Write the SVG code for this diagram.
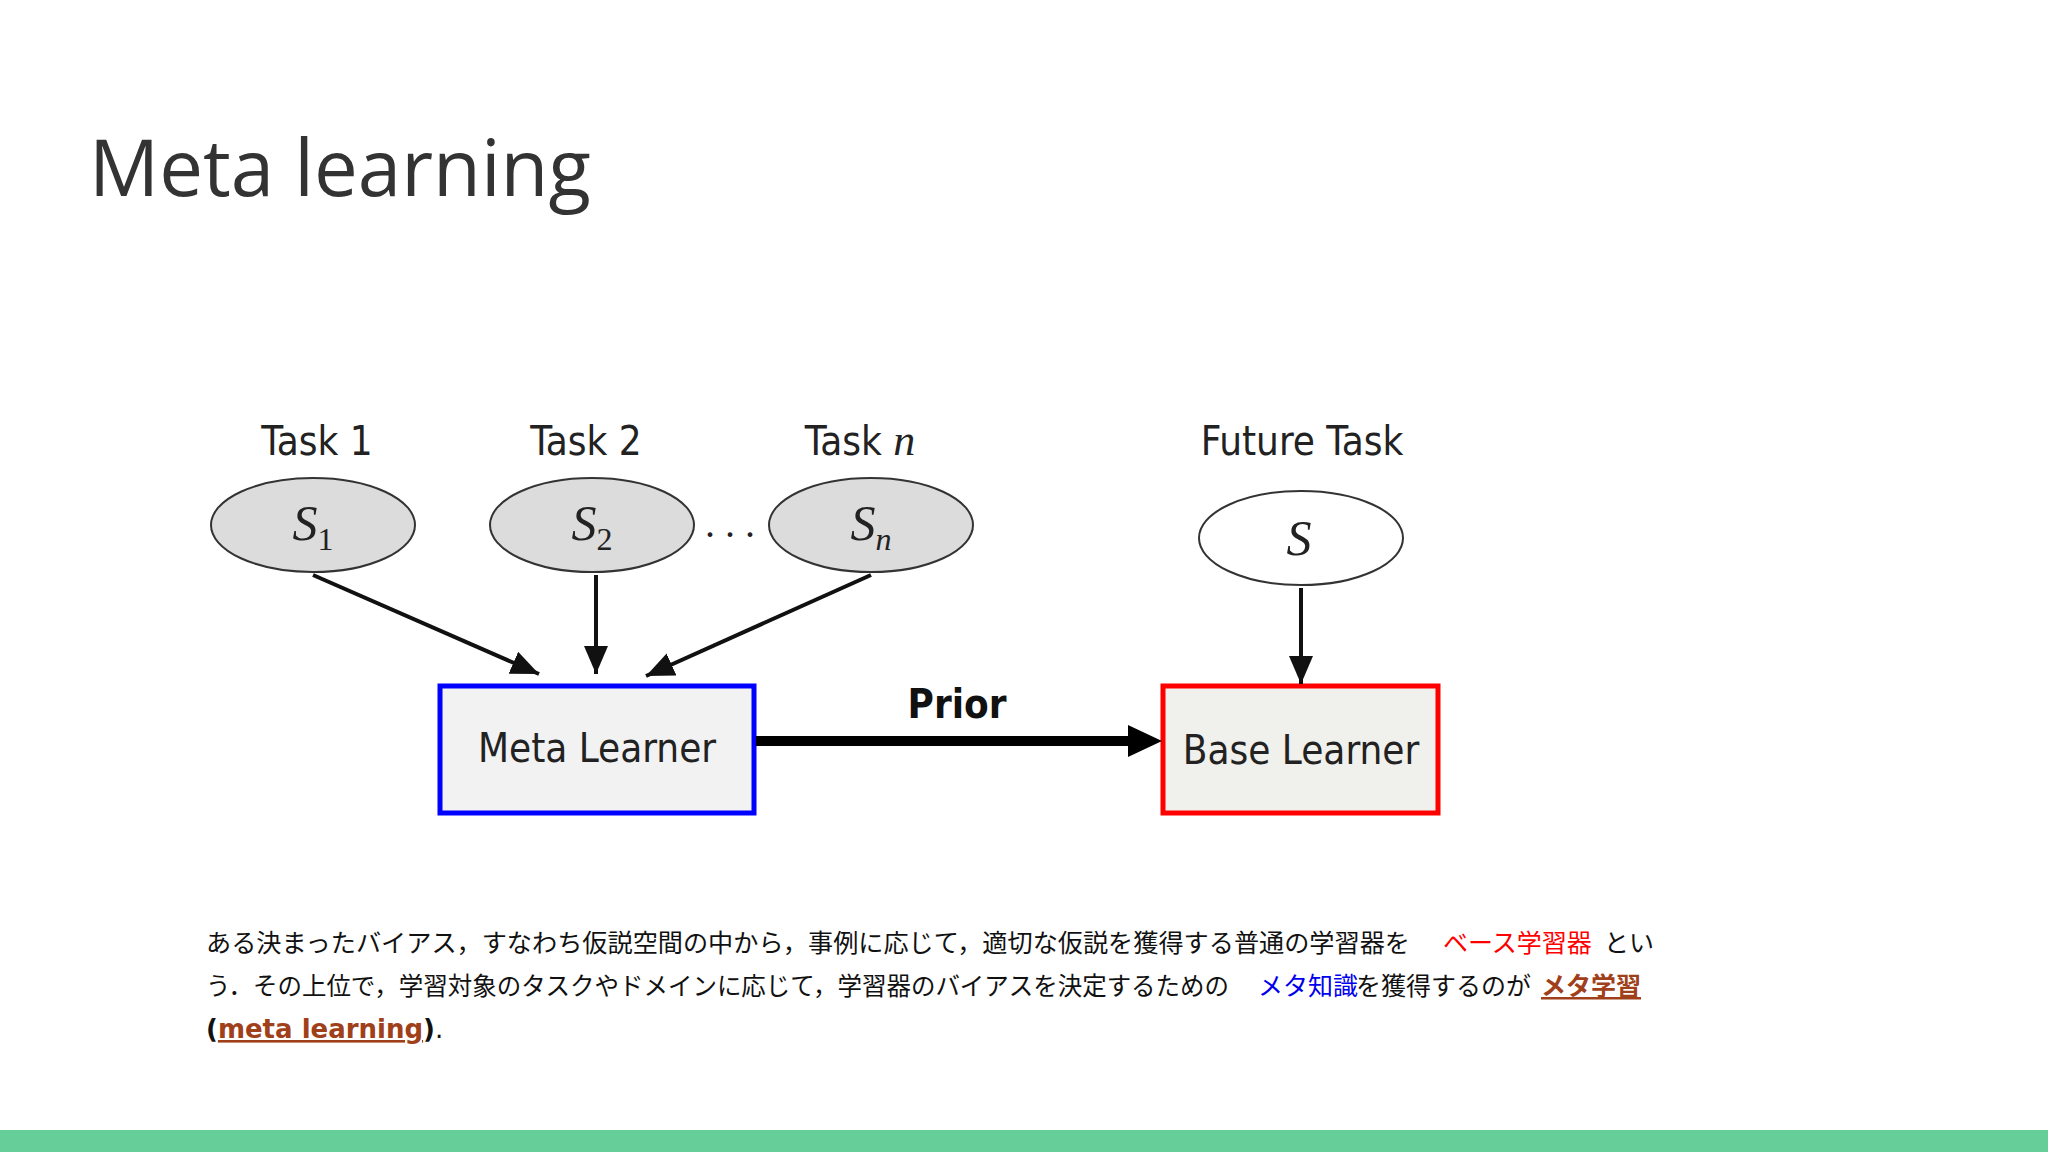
<svg xmlns="http://www.w3.org/2000/svg" width="2048" height="1152" viewBox="0 0 2048 1152">
<style>
.lbl{font-family:"DejaVu Sans Condensed","Liberation Sans",sans-serif;font-size:40px;fill:#222;text-anchor:middle}
.math{font-family:"Liberation Serif",serif;font-style:italic;font-size:50px;fill:#222;text-anchor:middle}
.sub{font-family:"Liberation Serif",serif;font-size:32px}
.node{stroke:#333;stroke-width:2}
.edge{stroke:#111;stroke-width:4;fill:none;marker-end:url(#ah)}
.jp{font-family:"Noto Sans CJK JP",sans-serif;font-size:25px;fill:#111}
</style>
<defs>
<marker id="ah" markerWidth="8" markerHeight="8" refX="7" refY="4" orient="auto" markerUnits="strokeWidth"><path d="M0,1 L7,4 L0,7 Z" fill="#111"/></marker>
<marker id="bh" markerWidth="4" markerHeight="4" refX="3" refY="2" orient="auto" markerUnits="strokeWidth"><path d="M0,0 L3,2 L0,4 Z" fill="#000"/></marker>
</defs>
<rect width="2048" height="1152" fill="#fff"/>
<text x="89" y="196" font-family="Open Sans, Lato, sans-serif" font-size="78" fill="#333">Meta learning</text>
<g id="task1"><text class="lbl" x="317" y="455">Task 1</text><ellipse class="node" cx="313" cy="525" rx="102" ry="47" fill="#dcdcdc"/><text class="math" x="313" y="540">S<tspan class="sub" font-style="normal" dy="10">1</tspan></text></g>
<g id="task2"><text class="lbl" x="586" y="455">Task 2</text><ellipse class="node" cx="592" cy="525" rx="102" ry="47" fill="#dcdcdc"/><text class="math" x="592" y="540">S<tspan class="sub" font-style="normal" dy="10">2</tspan></text></g>
<g id="dots"><text x="730" y="537" font-family="Liberation Serif,serif" font-size="40" fill="#222" text-anchor="middle">. . .</text></g>
<g id="taskn"><text class="lbl" x="860" y="455">Task <tspan font-family="Liberation Serif,serif" font-style="italic" font-size="44">n</tspan></text><ellipse class="node" cx="871" cy="525" rx="102" ry="47" fill="#dcdcdc"/><text class="math" x="871" y="540">S<tspan class="sub" font-style="italic" dy="10">n</tspan></text></g>
<g id="future"><text class="lbl" x="1302" y="455">Future Task</text><ellipse class="node" cx="1301" cy="538" rx="102" ry="47" fill="#fff"/><text class="math" x="1299" y="555">S</text></g>
<g id="meta"><rect x="440" y="686" width="314" height="127" fill="#f2f2f2" stroke="#0000ff" stroke-width="5"/><text class="lbl" x="597" y="762" font-size="36">Meta Learner</text></g>
<g id="base"><rect x="1163" y="686" width="275" height="127" fill="#f0f0ec" stroke="#ff0000" stroke-width="5"/><text class="lbl" x="1301" y="764" font-size="36">Base Learner</text></g>
<g id="edges">
<line class="edge" x1="313" y1="575" x2="539" y2="674"/>
<line class="edge" x1="596" y1="575" x2="596" y2="674"/>
<line class="edge" x1="871" y1="575" x2="646" y2="676"/>
<line class="edge" x1="1301" y1="588" x2="1301" y2="684"/>
<line x1="756" y1="741" x2="1130" y2="741" stroke="#000" stroke-width="10"/>
<path d="M1128,725 L1162,741 L1128,757 Z" fill="#000"/>
<text x="957" y="718" font-family="DejaVu Sans Condensed,Liberation Sans,sans-serif" font-weight="bold" font-size="40" fill="#111" text-anchor="middle">Prior</text>
</g>
<g id="caption">
<text class="jp" x="206" y="952" textLength="1204" lengthAdjust="spacingAndGlyphs">ある決まったバイアス，すなわち仮説空間の中から，事例に応じて，適切な仮説を獲得する普通の学習器を</text>
<text class="jp" x="1443" y="952" fill="#ff0000" style="fill:#ff0000">ベース学習器</text>
<text class="jp" x="1604" y="952">とい</text>
<text class="jp" x="206" y="995" textLength="1023" lengthAdjust="spacingAndGlyphs">う．その上位で，学習対象のタスクやドメインに応じて，学習器のバイアスを決定するための</text>
<text class="jp" x="1258" y="995" style="fill:#0000ee">メタ知識</text>
<text class="jp" x="1356" y="995">を獲得するのが</text>
<text class="jp" x="1541" y="995" font-weight="bold" text-decoration="underline" style="fill:#a0401a">メタ学習</text>
<text x="206" y="1038" font-family="DejaVu Sans,sans-serif" font-size="26" font-weight="bold" fill="#111">(<tspan fill="#a0401a" text-decoration="underline">meta learning</tspan>)<tspan font-weight="normal">.</tspan></text>
</g>
<rect x="0" y="1130" width="2048" height="22" fill="#66cf99"/>
</svg>
